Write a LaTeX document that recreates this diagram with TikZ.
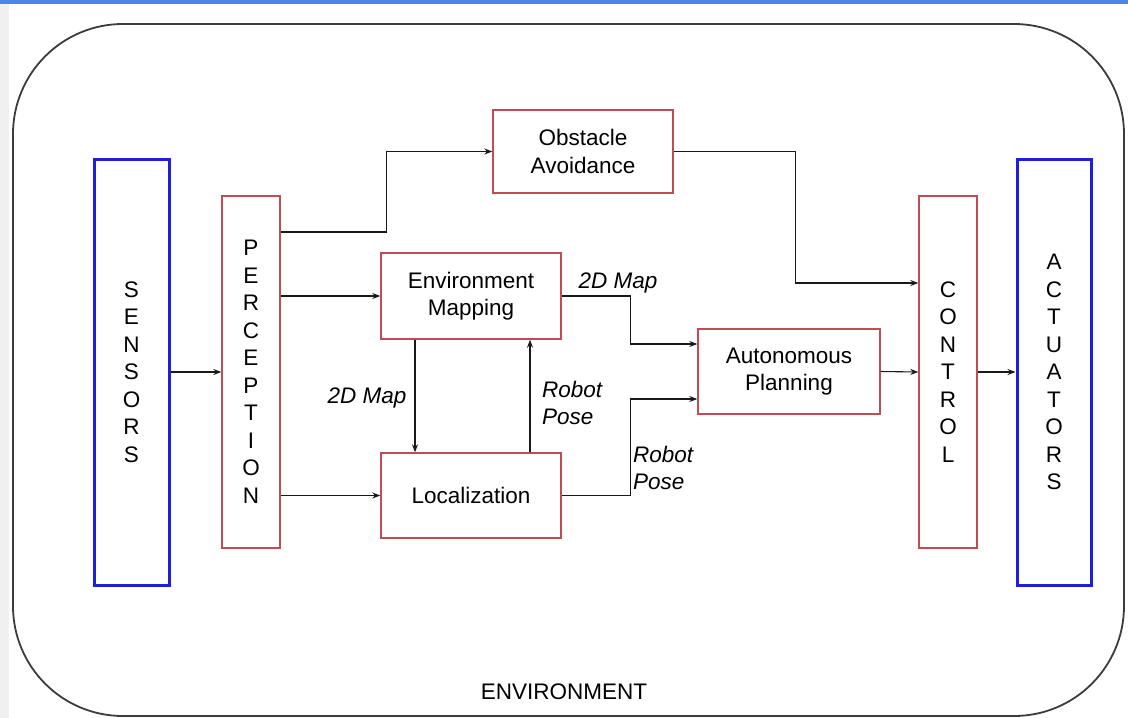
\documentclass[tikz,border=0pt]{standalone}
\usepackage{fontspec}
\setmainfont{Liberation Sans}
\usetikzlibrary{arrows.meta}
\definecolor{boxred}{RGB}{195,75,85}
\definecolor{boxblue}{RGB}{30,30,220}
\definecolor{topblue}{RGB}{74,134,232}
\definecolor{linegray}{RGB}{60,60,60}
\tikzset{
  every node/.style={font=\fontsize{22.5}{27.5}\selectfont, inner sep=0pt},
  redbox/.style={draw=boxred, line width=1.4pt, align=center},
  bluebox/.style={draw=boxblue, line width=3pt, align=center},
  arr/.style={draw=black!90, line width=1.1pt, -{Stealth[length=8pt,width=6pt]}},
  lab/.style={font=\fontsize{22.5}{27}\selectfont\itshape, align=left},
  envbox/.style={draw=linegray, line width=1.8pt, rounded corners=110pt}
}
\begin{document}
\begin{tikzpicture}[x=1pt,y=-1pt]
\useasboundingbox (0,0) rectangle (1128,718);
\fill[white] (0,0) rectangle (1128,718);
\fill[topblue] (0,0) rectangle (1128,4);
\fill[gray!12] (0,4) rectangle (9,718);
\draw[envbox] (13,24) rectangle (1124,716);
\node (envlabel) at (564,692) {ENVIRONMENT};

\node[bluebox, minimum width=75pt, minimum height=426pt] (sensors) at (131.5,372) {S\\E\\N\\S\\O\\R\\S};
\node[redbox, minimum width=58pt, minimum height=352pt] (perception) at (251,372) {P\\E\\R\\C\\E\\P\\T\\I\\O\\N};
\node[redbox, minimum width=180pt, minimum height=83pt] (obstacle) at (583,151.5) {Obstacle\\Avoidance};
\node[redbox, minimum width=180pt, minimum height=86pt] (envmap) at (471,296) {Environment\\Mapping};
\node[redbox, minimum width=180pt, minimum height=85pt] (loc) at (471,495.5) {Localization};
\node[redbox, minimum width=182pt, minimum height=85pt] (planning) at (789,371.5) {Autonomous\\Planning};
\node[redbox, minimum width=58pt, minimum height=352pt] (control) at (948,372) {C\\O\\N\\T\\R\\O\\L};
\node[bluebox, minimum width=74pt, minimum height=426pt] (actuators) at (1054,372) {A\\C\\T\\U\\A\\T\\O\\R\\S};

\draw[arr] (sensors.east) -- (perception.west);
\draw[arr] ([yshift=140pt]perception.east) -- ++(106,0) |- (obstacle.west);
\draw[arr] (envmap.west -| perception.east) -- (envmap.west);
\draw[arr] (loc.west -| perception.east) -- (loc.west);
\draw[arr] (obstacle.east) -- ++(122,0) |- ([yshift=89pt]control.west);
\draw[arr] (envmap.east) -- ++(69,0) |- ([yshift=27.5pt]planning.west);
\draw[arr] (loc.east) -- ++(69,0) |- ([yshift=-27.5pt]planning.west);
\draw[arr] ([xshift=-56pt]envmap.south) -- ([xshift=-56pt]loc.north);
\draw[arr] ([xshift=59pt]loc.north) -- ([xshift=59pt]envmap.south);
\draw[arr] (planning.east) -- (control.west);
\draw[arr] (control.east) -- (actuators.west);

\node[lab] (map1) at (618,283) {2D Map};
\node[lab] (map2) at (367,398) {2D Map};
\node[lab, anchor=west] (pose1) at (542,403) {Robot\\Pose};
\node[lab, anchor=west] (pose2) at (633,468) {Robot\\Pose};
\end{tikzpicture}
\end{document}
